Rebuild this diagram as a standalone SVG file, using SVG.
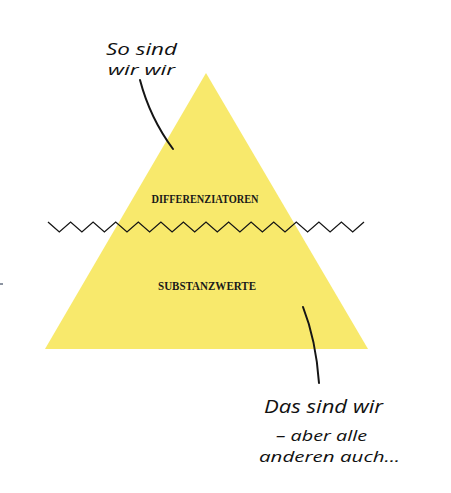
<svg xmlns="http://www.w3.org/2000/svg" width="451" height="493" viewBox="0 0 451 493">
<style>
.hand{font-family:"Open Sans","DejaVu Sans",sans-serif;font-size:17px;fill:#111;font-style:italic}
.lbl{font-family:"Liberation Serif","DejaVu Serif",serif;font-weight:bold;font-size:11.5px;fill:#1a1a1a}
.ink{fill:none;stroke:#151515;stroke-width:2;stroke-linecap:round}
</style>
<rect width="451" height="493" fill="#ffffff"/>
<g id="pyramid">
<polygon points="206,73 368,349 45,349" fill="#f8e96c"/>
</g>
<g id="differenziatoren">
<text class="lbl" x="205" y="203" text-anchor="middle" textLength="107" lengthAdjust="spacingAndGlyphs">DIFFERENZIATOREN</text>
</g>
<g id="substanzwerte">
<text class="lbl" x="207" y="290" text-anchor="middle" textLength="98" lengthAdjust="spacingAndGlyphs">SUBSTANZWERTE</text>
</g>
<g id="waterline">
<polyline class="ink" style="stroke-width:1.3;stroke-linecap:butt;stroke-linejoin:miter" points="48,222 59.3,232 70.6,222 81.9,232 93.1,222 104.4,232 115.7,222 127,232 138.3,222 149.6,232 160.9,222 172.1,232 183.4,222 194.7,232 206,222 217.3,232 228.6,222 239.9,232 251.1,222 262.4,232 273.7,222 285,232 296.3,222 307.6,232 318.9,222 330.1,232 341.4,222 352.7,232 364,222"/>
</g>
<g id="note-top">
<text class="hand" x="106" y="55" style="font-size:17px" textLength="71" lengthAdjust="spacingAndGlyphs">So sind</text>
<text class="hand" x="108" y="75" style="font-size:15px" textLength="67" lengthAdjust="spacingAndGlyphs">wir wir</text>
</g>
<g id="note-bottom">
<text class="hand" x="264" y="413" style="font-size:18px" textLength="119" lengthAdjust="spacingAndGlyphs">Das sind wir</text>
<text class="hand" x="276" y="441" style="font-size:15px" textLength="91" lengthAdjust="spacingAndGlyphs">– aber alle</text>
<text class="hand" x="259" y="462" style="font-size:15px" textLength="141" lengthAdjust="spacingAndGlyphs">anderen auch...</text>
</g>
<g id="connectors">
<path class="ink" d="M140,80 Q150,118 173,149"/>
<path class="ink" d="M303,307 Q316,340 319,383"/>
<line x1="0" y1="284" x2="3" y2="284" stroke="#1a2a44" stroke-width="1"/>
</g>
</svg>
